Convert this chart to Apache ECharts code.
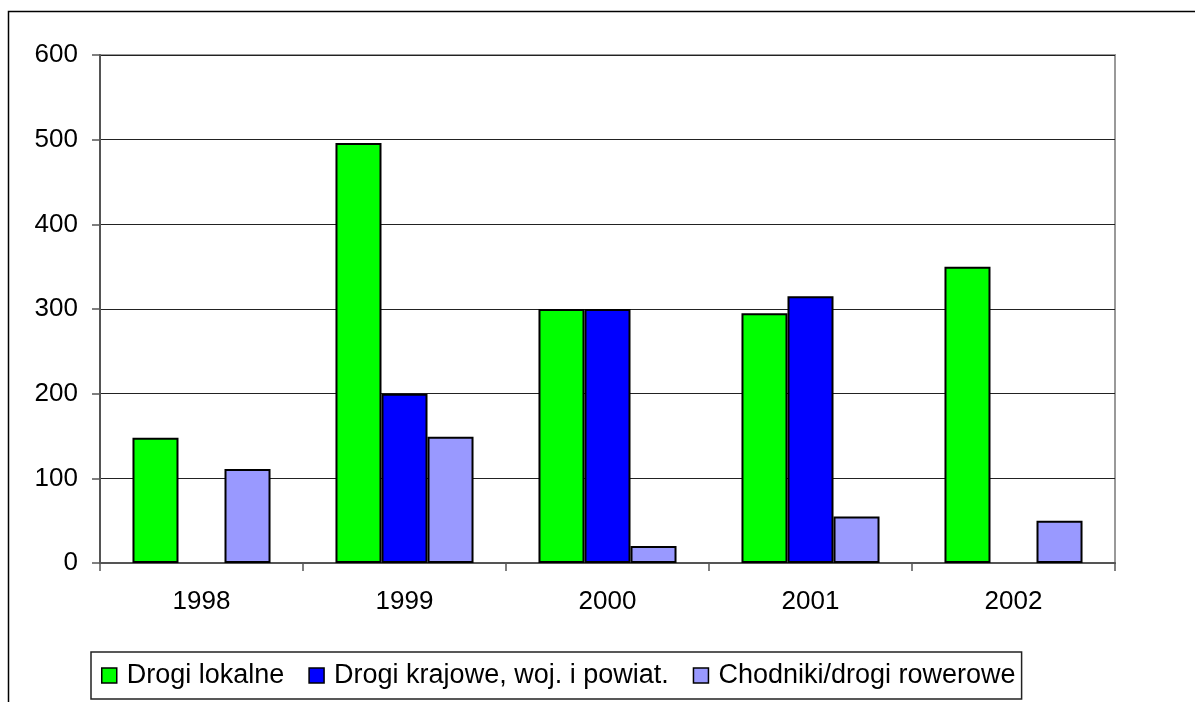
<!DOCTYPE html>
<html>
<head>
<meta charset="utf-8">
<script src="https://cdn.jsdelivr.net/npm/echarts@6/dist/echarts.min.js"></script>
<style>html,body{margin:0;padding:0;background:#fff;}#c{width:1195px;height:702px;}</style>
</head>
<body>
<div id="c"></div>
<script>
const categories = ['1998', '1999', '2000', '2001', '2002'];
const seriesNames = ['Drogi lokalne', 'Drogi krajowe, woj. i powiat.', 'Chodniki/drogi rowerowe'];
const drogiLokalne = [148, 496, 300, 295, 350];
const drogiKrajowe = [null, 200, 300, 315, null];
const chodniki = [111, 149, 20, 55, 50];
const yTicks = [0, 100, 200, 300, 400, 500, 600];

const colors = ['#00ff00', '#0000ff', '#9999ff'];
const chart = echarts.init(document.getElementById('c'), null, {renderer: 'canvas'});
const font = 'Liberation Sans, Arial, sans-serif';
const mk = (name, data, color) => ({
  name, type: 'bar', data,
  barGap: '0%', barCategoryGap: '32%',
  itemStyle: {color, borderColor: '#000', borderWidth: 2},
  emphasis: {disabled: true}
});
chart.setOption({
  animation: false,
  color: colors,
  graphic: [{
    type: 'rect', z: -1, silent: true,
    shape: {x: 8.5, y: 11.5, width: 1300, height: 800},
    style: {fill: 'none', stroke: '#000', lineWidth: 1.5}
  }],
  grid: {left: 100, right: 80, top: 55, bottom: 139, show: true, borderColor: '#999', borderWidth: 2, backgroundColor: 'transparent'},
  legend: {
    left: 91, top: 652,
    data: seriesNames,
    itemWidth: 15, itemHeight: 15, itemGap: 24,
    borderColor: '#222', borderWidth: 1.5,
    padding: [10, 6, 10, 10],
    icon: 'rect',
    itemStyle: {borderColor: '#000', borderWidth: 1.5},
    textStyle: {fontFamily: font, fontSize: 27, color: '#000', padding: [0, 0, 0, 5]}
  },
  xAxis: {
    type: 'category', data: categories,
    axisLine: {lineStyle: {color: '#555', width: 2}},
    axisTick: {show: true, length: 8, lineStyle: {color: '#555', width: 1.5}},
    axisLabel: {fontFamily: font, fontSize: 26, color: '#000', margin: 26}
  },
  yAxis: {
    type: 'value', min: 0, max: 600, interval: 100,
    axisLine: {show: true, lineStyle: {color: '#555', width: 2}},
    axisTick: {show: true, length: 8, lineStyle: {color: '#555', width: 1.5}},
    splitLine: {lineStyle: {color: '#222', width: 1.2}},
    axisLabel: {fontFamily: font, fontSize: 26, color: '#000', margin: 22,
      formatter: v => yTicks.includes(v) ? String(v) : ''}
  },
  series: [
    mk(seriesNames[0], drogiLokalne, colors[0]),
    mk(seriesNames[1], drogiKrajowe, colors[1]),
    mk(seriesNames[2], chodniki, colors[2])
  ]
});
</script>
</body>
</html>
